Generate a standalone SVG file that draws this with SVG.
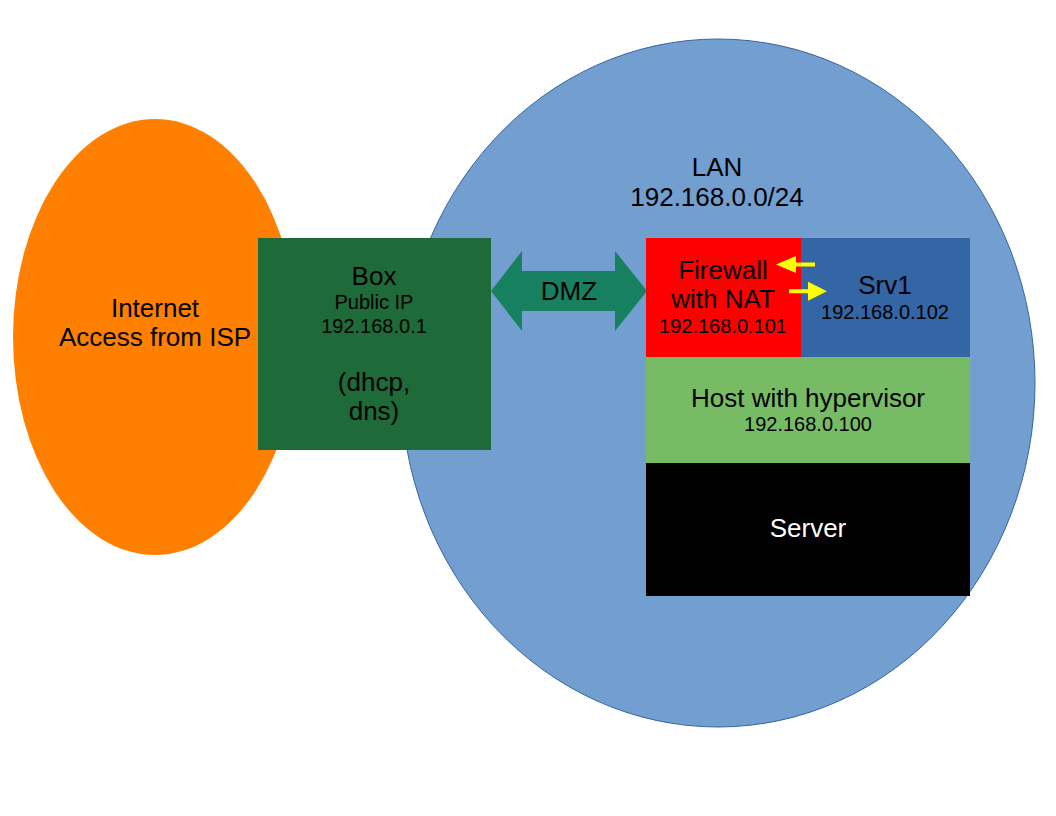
<svg xmlns="http://www.w3.org/2000/svg" width="1056" height="816" viewBox="0 0 1056 816">
<style>
text{font-family:"Liberation Sans",Arial,sans-serif;text-anchor:middle;fill:#000}
.l{font-size:26px}
.s{font-size:20px}
.w{fill:#fff}
.y{fill:#ffff00}
</style>
<rect width="1056" height="816" fill="#fff"/>
<g id="internet">
<ellipse cx="155" cy="337" rx="142" ry="218" fill="#ff8000"/>
<text class="l" x="155" y="317">Internet</text>
<text class="l" x="155" y="346">Access from ISP</text>
</g>
<g id="lan">
<ellipse cx="718" cy="383" rx="317" ry="344" fill="#729fcf" stroke="#3465a4" stroke-width="1"/>
<text class="l" x="717" y="176">LAN</text>
<text class="l" x="717" y="206">192.168.0.0/24</text>
</g>
<g id="box">
<rect x="258" y="238" width="233" height="212" fill="#1e6a39"/>
<text class="l" x="374" y="285">Box</text>
<text class="s" x="374" y="309">Public IP</text>
<text class="s" x="374" y="333">192.168.0.1</text>
<text class="l" x="374" y="391">(dhcp,</text>
<text class="l" x="374" y="420">dns)</text>
</g>
<g id="firewall">
<rect x="646" y="238" width="155" height="119" fill="#ff0000"/>
<text class="l" x="723" y="279">Firewall</text>
<text class="l" x="723" y="308">with NAT</text>
<text class="s" x="723" y="333">192.168.0.101</text>
</g>
<g id="srv1">
<rect x="801" y="238" width="169" height="119" fill="#3465a4"/>
<text class="l" x="885" y="294">Srv1</text>
<text class="s" x="885" y="319">192.168.0.102</text>
</g>
<g id="host">
<rect x="646" y="357" width="324" height="106" fill="#77bc65"/>
<text class="l" x="808" y="407">Host with hypervisor</text>
<text class="s" x="808" y="431">192.168.0.100</text>
</g>
<g id="server">
<rect x="646" y="463" width="324" height="133" fill="#000"/>
<text class="l w" x="808" y="537">Server</text>
</g>
<g id="connectors">
<path d="M491,291 L522,251 L522,271 L615,271 L615,251 L647,291 L615,331 L615,311 L522,311 L522,331 z" fill="#168060"/>
<text class="l" x="569" y="300">DMZ</text>
<path class="y" d="M815,262.5 L796,262.5 L796,256 L776,264.5 L796,273 L796,266.5 L815,266.5 z"/>
<path class="y" d="M789,289.3 L808,289.3 L808,281.7 L827,291.3 L808,300.7 L808,293.3 L789,293.3 z"/>
</g>
</svg>
